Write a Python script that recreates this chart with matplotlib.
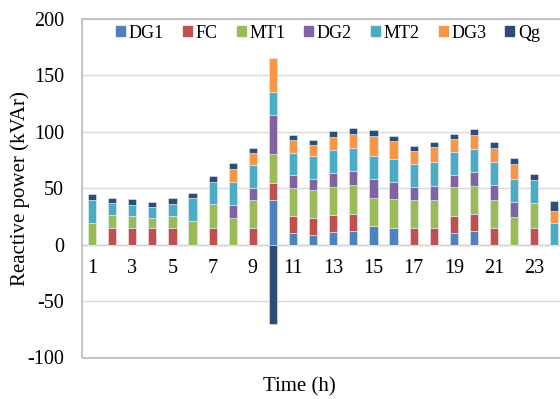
import numpy as np
import matplotlib
matplotlib.use("Agg")
import matplotlib.pyplot as plt
from matplotlib.patches import Rectangle

plt.rcParams['font.family'] = ['Liberation Serif', 'DejaVu Serif']

hours = list(range(1, 25))
series_names = ["DG1", "FC", "MT1", "DG2", "MT2", "DG3", "Qg"]
colors = ["#4F81BD", "#C0504D", "#9BBB59", "#8064A2", "#4BACC6", "#F79646", "#2C4D75"]

DG1 = [0, 0, 0, 0, 0, 0, 0, 0, 0, 40, 10.6, 8.8, 11.5, 12.1, 16.6, 14.8, 0, 0, 10.4, 11.8, 0, 0, 0, 0]
FC  = [0, 15, 15, 15, 15, 0, 15, 0, 15, 15, 14.7, 14.7, 14.7, 15.1, 0, 0, 14.5, 15, 15.1, 15.1, 14.5, 0, 15, 0]
MT1 = [19.5, 11, 10, 9, 10.3, 20.6, 20.6, 24, 24.7, 25.3, 25.3, 25.3, 25.3, 25.4, 25.1, 25.4, 25.1, 25, 25.4, 25.4, 25.1, 24.3, 22.2, 0]
DG2 = [0, 0, 0, 0, 0, 0, 0, 11.5, 10.6, 34.7, 10.9, 9.7, 11.8, 12.7, 16.9, 15.7, 11.5, 12.4, 11, 12.4, 13.3, 13.6, 0, 0]
MT2 = [20, 11, 10.3, 9, 11, 20.4, 20, 20, 20, 20.6, 19.7, 19.7, 20.3, 20.1, 20.1, 19.8, 20.4, 20.7, 20.4, 19.8, 20.1, 20.1, 20.4, 19]
DG3 = [0, 0, 0, 0, 0, 0, 0, 11.5, 10.6, 29.7, 11.5, 9.7, 11.5, 13, 17.5, 16, 11.2, 13.3, 11.2, 13, 13, 13.9, 0, 11]
Qg  = [5, 4.5, 5, 5, 5, 5, 5, 5, 5, -70, 4.7, 5, 5.3, 5.3, 5, 5, 5, 4.7, 5, 5, 5, 5, 5, 8.6]

yticks = [-100, -50, 0, 50, 100, 150, 200]
xtick_labels = [1, 3, 5, 7, 9, 11, 13, 15, 17, 19, 21, 23]

fig = plt.figure(figsize=(5.6, 3.99), dpi=100)
ax = fig.add_axes([82 / 560, (399 - 357.5) / 399, 482.4 / 560, (357.5 - 19) / 399])

for s in ["top", "left", "right"]:
    ax.spines[s].set_visible(False)
ax.spines["bottom"].set_position(("data", 0))
ax.spines["bottom"].set_color("#D0D0D0")
ax.spines["bottom"].set_linewidth(1.0)
ax.spines["bottom"].set_zorder(2)

data = [DG1, FC, MT1, DG2, MT2, DG3, Qg]
x = np.array(hours, dtype=float)
pos_bottom = np.zeros(len(hours))
neg_bottom = np.zeros(len(hours))
handles = []
for name, vals, c in zip(series_names, data, colors):
    v = np.array(vals, dtype=float)
    pos = np.where(v > 0, v, 0)
    neg = np.where(v < 0, v, 0)
    ax.bar(x, pos, 0.41, bottom=pos_bottom, color=c, edgecolor="#E8EEF5", linewidth=0.4, zorder=3)
    if np.any(neg < 0):
        ax.bar(x, neg, 0.41, bottom=neg_bottom, color=c, edgecolor="#E8EEF5", linewidth=0.4, zorder=3)
    pos_bottom += pos
    neg_bottom += neg
    handles.append(Rectangle((0, 0), 1, 1, color=c))

ax.set_xlim(0.5, 24.5)
ax.set_ylim(-100, 200)
ax.set_yticks(yticks)
ax.set_yticklabels([str(t) for t in yticks])
ax.set_xticks(xtick_labels)
ax.set_xticklabels([str(t) for t in xtick_labels])
ax.tick_params(axis="x", length=0, pad=10, labelsize=14.5)
ax.tick_params(axis="y", length=0, pad=13, labelsize=14.5)
ax.yaxis.grid(True, color="#D9D9D9", linewidth=1.0, zorder=0)
ax.set_axisbelow(True)

frame = Rectangle((0, 0), 1, 1, transform=ax.transAxes, fill=False,
                  edgecolor="#BFBFBF", linewidth=1.3, zorder=4, clip_on=False)
ax.add_patch(frame)

ax.legend(handles, series_names, ncol=7, loc="center",
          bbox_to_anchor=(328 / 560, 1 - 33 / 399), bbox_transform=fig.transFigure,
          frameon=False, fontsize=13, handlelength=0.5, handleheight=0.5,
          handletextpad=0.2, columnspacing=1.05, borderaxespad=0)

fig.text(20 / 560, 1 - 189 / 399, "Reactive power (kVAr)", rotation=90,
         ha="center", va="center", fontsize=15)
fig.text(299.7 / 560, 1 - 386.7 / 399, "Time (h)", ha="center", va="center", fontsize=15)

fig.savefig("out.png", dpi=100)
